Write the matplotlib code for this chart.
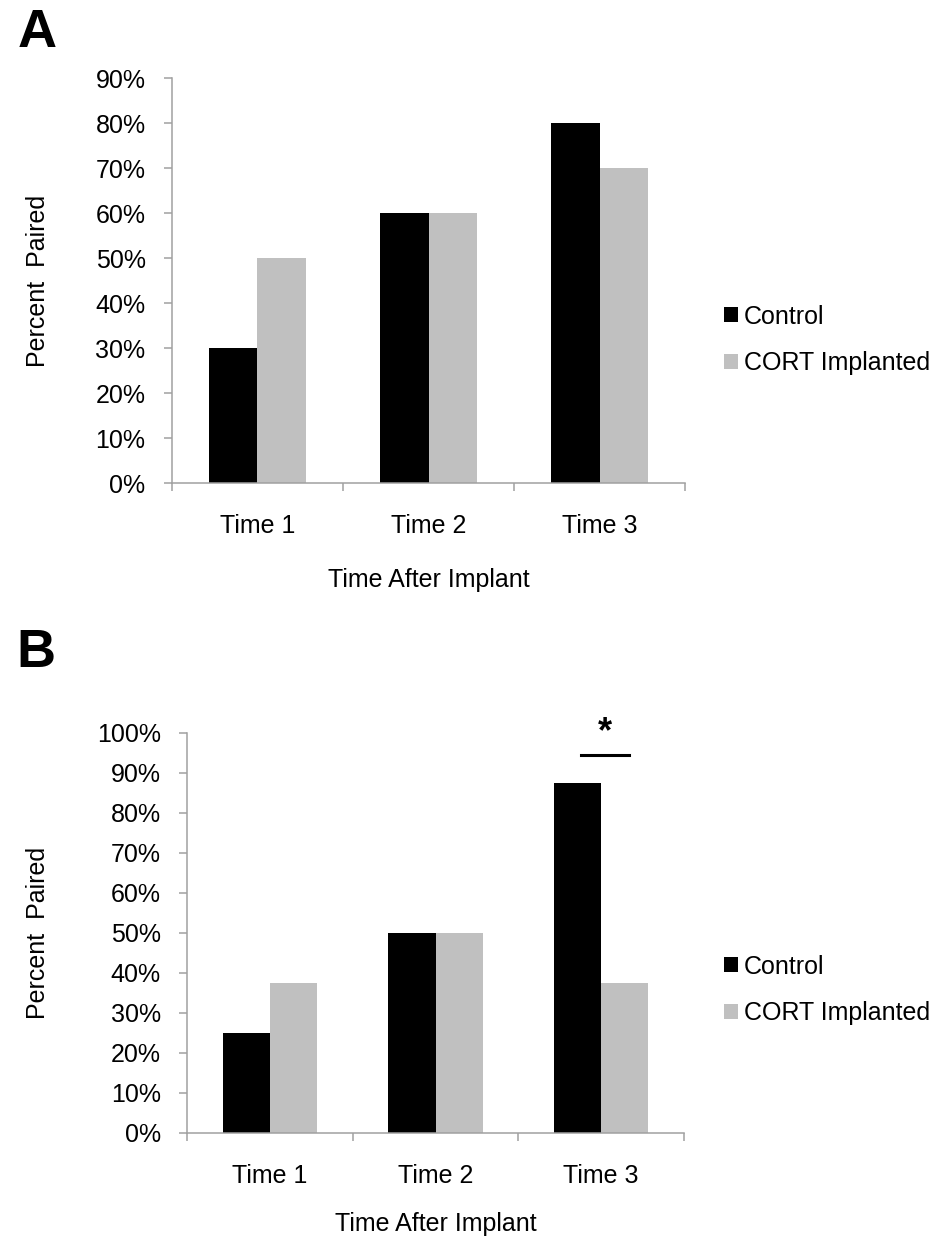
import numpy as np
import matplotlib
matplotlib.use('Agg')
import matplotlib.pyplot as plt
from matplotlib.patches import Patch
from matplotlib.ticker import PercentFormatter

plt.rcParams['font.family'] = ['Liberation Sans', 'DejaVu Sans']

times = ['Time 1', 'Time 2', 'Time 3']
groups = ['Control', 'CORT Implanted']

# panel A
control_a = [0.30, 0.60, 0.80]
cort_a = [0.50, 0.60, 0.70]

# panel B
control_b = [0.25, 0.50, 0.875]
cort_b = [0.375, 0.50, 0.375]

colors = ['#000000', '#C0C0C0']
axisGrey = '#A0A0A0'
fs = 18


def barPanel(ax, control, cort, ymax, ylabelX, xlabelY, legendY):
    x = np.arange(len(times))
    w = 0.285
    ax.bar(x - w / 2, control, w, color=colors[0], edgecolor='none')
    ax.bar(x + w / 2, cort, w, color=colors[1], edgecolor='none')
    ax.set_xlim(-0.5, len(times) - 0.5)
    ax.set_ylim(0, ymax)
    ax.set_yticks(np.arange(0, ymax + 0.001, 0.1))
    ax.yaxis.set_major_formatter(PercentFormatter(1.0, decimals=0))

    # ticks between categories, labels in the middle
    ax.set_xticks(np.arange(-0.5, len(times), 1))
    ax.set_xticklabels([])
    ax.set_xticks(x, minor=True)
    ax.set_xticklabels(times, minor=True)
    ax.tick_params(axis='x', which='minor', length=0, pad=22, labelsize=fs)
    ax.tick_params(axis='both', which='major', length=6, width=1.1,
                   color=axisGrey, labelsize=fs)
    ax.tick_params(axis='y', pad=13)

    for s in ['top', 'right']:
        ax.spines[s].set_visible(False)
    for s in ['left', 'bottom']:
        ax.spines[s].set_color(axisGrey)
        ax.spines[s].set_linewidth(1.1)

    ax.set_xlabel('Time After Implant', fontsize=fs)
    ax.xaxis.set_label_coords(0.5, xlabelY)
    ax.set_ylabel('Percent  Paired', fontsize=fs)
    ax.yaxis.set_label_coords(ylabelX, 0.5)

    handles = [Patch(facecolor=c, edgecolor='none') for c in colors]
    ax.legend(handles, groups, loc='center left',
              bbox_to_anchor=(724 / 945, legendY),
              bbox_transform=plt.gcf().transFigure,
              frameon=False, fontsize=fs, borderpad=0, borderaxespad=0,
              handlelength=0.55, handleheight=0.55, handletextpad=0.25,
              labelspacing=0.9)


fig = plt.figure(figsize=(9.45, 12.43), dpi=100)

axA = fig.add_axes([0.1820, 0.6114, 0.5429, 0.3258])
barPanel(axA, control_a, cort_a, 0.9, -0.238, -0.21, 1 - 340 / 1243)

axB = fig.add_axes([0.1979, 0.0885, 0.5259, 0.3218])
barPanel(axB, control_b, cort_b, 1.0, -0.276, -0.197, 1 - 990 / 1243)

# significance mark over Time 3
axB.plot([1.88, 2.17], [0.945, 0.945], color='black', lw=2.2, clip_on=False)
axB.text(2.02, 1.0, '*', fontsize=26, fontweight='bold', ha='center',
         va='center', clip_on=False)

fig.text(18 / 945, 1 - 47 / 1243, 'A', fontsize=39, fontweight='bold')
fig.text(16 / 945, 1 - 667 / 1243, 'B', fontsize=39, fontweight='bold')

plt.savefig('out.png', dpi=100)
